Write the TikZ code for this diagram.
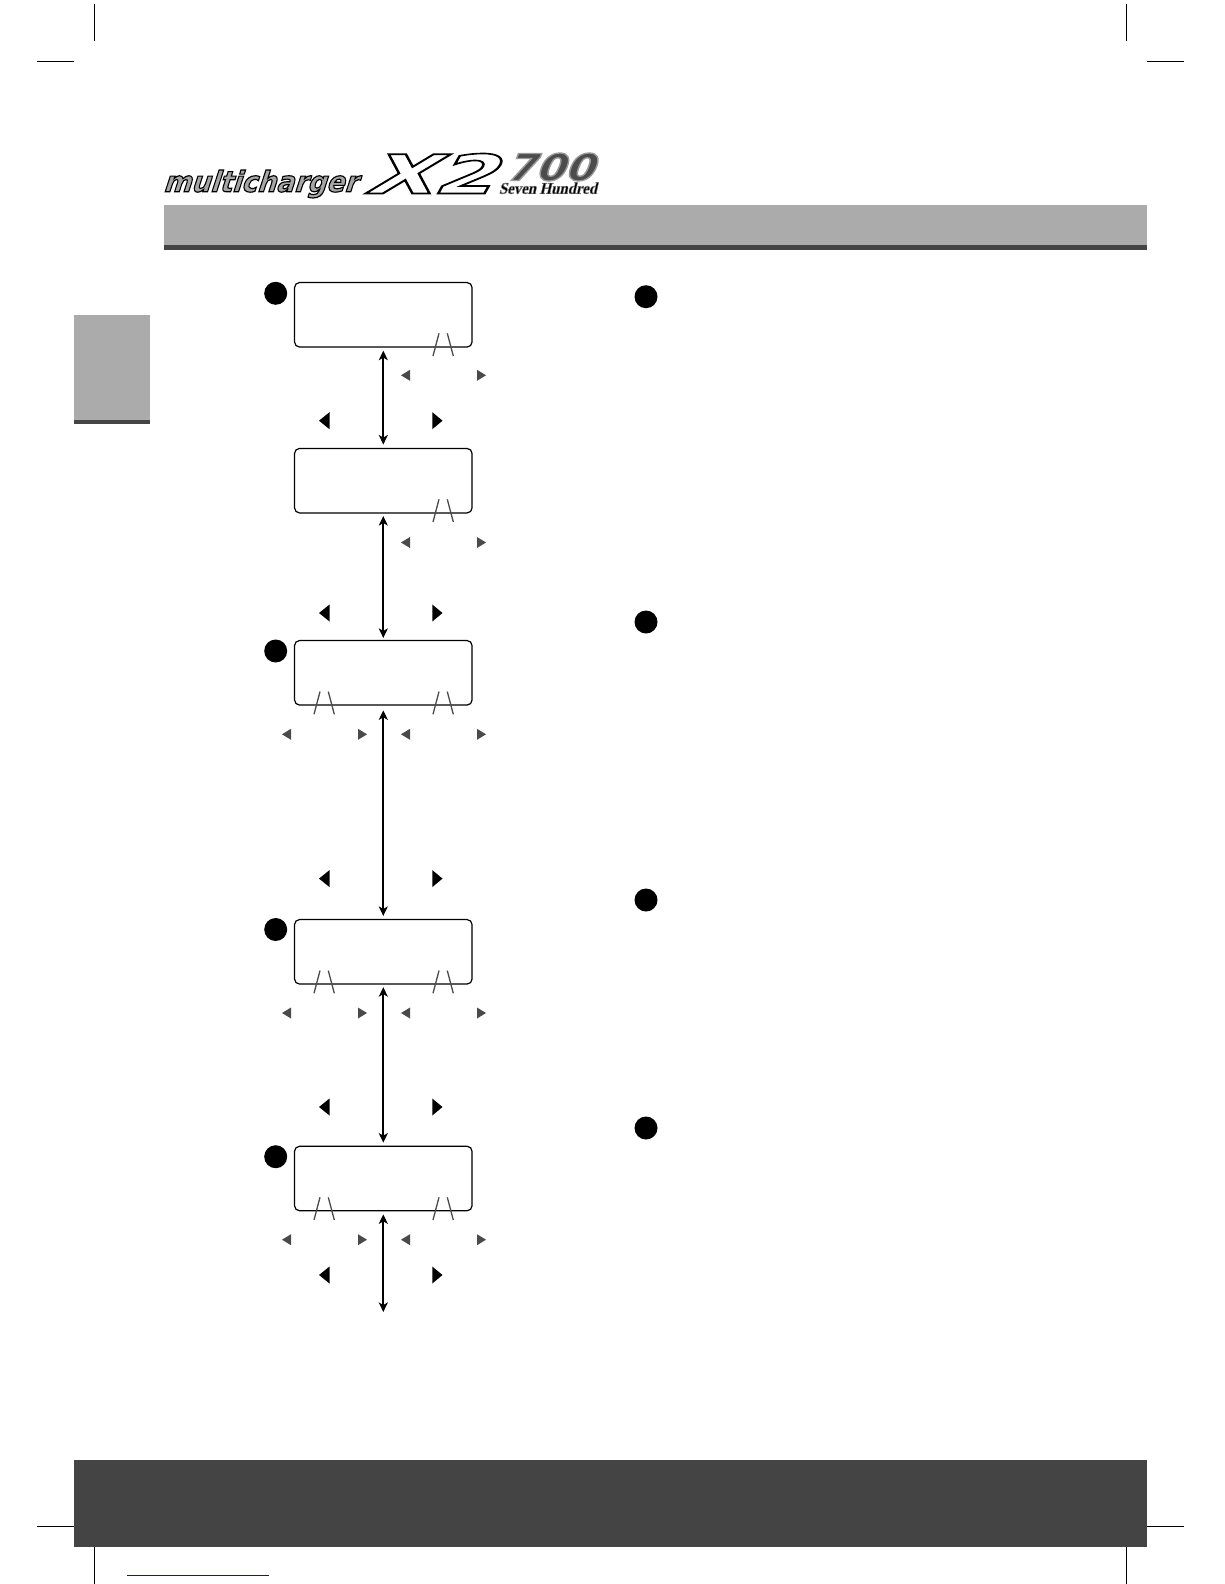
\documentclass[tikz,border=0pt]{standalone}
\usepackage{fontspec}
\usepackage{graphicx}
\usetikzlibrary{arrows.meta,fadings}
\newfontfamily\logosans[FakeSlant=0.35]{DejaVu Sans}
\newfontfamily\logoserif[FakeSlant=0.25]{Liberation Serif}
\definecolor{bandgray}{HTML}{ABABAB}
\definecolor{bandDark}{HTML}{444444}
\definecolor{markGray}{HTML}{4A4A4A}
\definecolor{linkBlue}{HTML}{14148C}
% text sizes
\newcommand{\mctext}{\resizebox*{194bp}{28bp}{\logosans\bfseries multicharger}}
\newcommand{\xtwotext}{\resizebox*{128bp}{40bp}{\logosans\bfseries X2}}
\newcommand{\sevtext}{\resizebox*{88bp}{28bp}{\logosans\bfseries 700}}
\newcommand{\shtext}{\resizebox*{98bp}{11.5bp}{\logoserif\bfseries Seven Hundred}}
\newcommand{\strokeon}[2]{\special{pdf:code 2 Tr #1 w #2 G}}
\newcommand{\strokeoff}{\special{pdf:code 0 Tr}}
\begin{tikzfadingfrompicture}[name=fademc]
\node[inner sep=0pt,text=transparent!0] {\mctext};
\end{tikzfadingfrompicture}
\begin{tikzfadingfrompicture}[name=fadextwo]
\node[inner sep=0pt,text=transparent!0] {\xtwotext};
\end{tikzfadingfrompicture}
\begin{tikzfadingfrompicture}[name=fadesev]
\node[inner sep=0pt,text=transparent!0] {\sevtext};
\end{tikzfadingfrompicture}
\tikzset{
  lcdbox/.style={draw=black,line width=1.2bp,rounded corners=5bp,fill=white,minimum width=177.5bp,minimum height=64.5bp,inner sep=0pt},
  bullet/.style={circle,fill=black,minimum size=23bp,inner sep=0pt},
  crop/.style={line width=1bp,black},
  arr/.style={line width=1.7bp,black,{Stealth[length=9.5bp,width=9bp,inset=2.5bp]}-{Stealth[length=9.5bp,width=9bp,inset=2.5bp]}},
  softkey/.style={line width=1.3bp,markGray},
  smalltri/.style={fill=markGray},
  bigtri/.style={fill=black},
  logotext/.style={inner sep=0pt,anchor=center}
}
\newcommand{\slashes}[2]{%
  \draw[softkey] (#1-19,#2+9) -- (#1-13,#2-13.7);
  \draw[softkey] (#1-4.7,#2-13.7) -- (#1+1.3,#2+9);}
\newcommand{\smalltris}[2]{%
  \fill[smalltri] (#1,#2) -- (#1+9,#2-5.5) -- (#1+9,#2+5.5) -- cycle;
  \fill[smalltri] (#1+85,#2) -- (#1+76,#2-5.5) -- (#1+76,#2+5.5) -- cycle;}
\newcommand{\bigtris}[1]{%
  \fill[bigtri] (319,#1) -- (329.5,#1-8.5) -- (329.5,#1+8.5) -- cycle;
  \fill[bigtri] (442.5,#1) -- (432.3,#1-8.5) -- (432.3,#1+8.5) -- cycle;}
\begin{document}
\begin{tikzpicture}[x=1bp,y=-1bp]
\useasboundingbox (0,0) rectangle (1224,1584);
\fill[white] (0,0) rectangle (1224,1584);
% crop marks
\draw[crop] (94.4,4) -- (94.4,41);
\draw[crop] (37,61.3) -- (74,61.3);
\draw[crop] (1126.3,4) -- (1126.3,41);
\draw[crop] (1147,61.3) -- (1184,61.3);
\draw[crop] (37,1526.3) -- (74,1526.3);
\draw[crop] (94.4,1547) -- (94.4,1584);
\draw[crop] (1147,1526.3) -- (1184,1526.3);
\draw[crop] (1126.3,1547) -- (1126.3,1584);
% bands
\fill[bandgray] (164,205) rectangle (1147,245);
\fill[bandDark] (164,245) rectangle (1147,250);
\fill[bandgray] (74,315) rectangle (150,420);
\fill[bandDark] (74,420) rectangle (150,424);
\fill[bandDark] (74,1460) rectangle (1147,1546.7);
\draw[linkBlue,line width=1.1bp] (127,1575.3) -- (269,1575.3);
% logo
\node[logotext,text=black!35] (logomc) at (260,184) {\strokeon{0.4}{0}\mctext\strokeoff};
\node[logotext,text=white] (logox) at (428,173.5) {\strokeon{0.3}{0}\xtwotext\strokeoff};
\shade[path fading=fadextwo,fit fading=false,top color=white,bottom color=black!30,draw=none] (364,153.5) rectangle (492,193.5);
\node[logotext,text=black!70] (logosev) at (549,167) {\strokeon{0.35}{0.6}\sevtext\strokeoff};
\node[logotext,text=black] (logosh) at (548,188.2) {\strokeon{0.3}{0.45}\shtext\strokeoff};
\shade[path fading=fademc,fit fading=false,top color=white,bottom color=black!60,draw=none] (163,170) rectangle (357,198);
\shade[path fading=fadesev,fit fading=false,left color=black!90,right color=black!45,draw=none] (505,153) rectangle (593,181);
% boxes
\node[lcdbox] (b1) at (383.3,314.8) {};
\node[lcdbox] (b2) at (383.3,480.7) {};
\node[lcdbox] (b3) at (383.3,672.8) {};
\node[lcdbox] (b4) at (383.3,951.8) {};
\node[lcdbox] (b5) at (383.3,1178.5) {};
\coordinate (e5) at (383.3,1312);
% connectors
\draw[arr,shorten <=3bp,shorten >=3.3bp] (b1.south) -- (b2.north);
\draw[arr,shorten <=2.5bp,shorten >=2bp] (b2.south) -- (b3.north);
\draw[arr,shorten <=4.7bp,shorten >=3bp] (b3.south) -- (b4.north);
\draw[arr,shorten <=2.5bp,shorten >=3bp] (b4.south) -- (b5.north);
\draw[arr,shorten <=3bp] (b5.south) -- (e5);
% bullets
\node[bullet] (l1) at (275.7,293.3) {};
\node[bullet] (l3) at (275.7,651) {};
\node[bullet] (l4) at (275.7,929.5) {};
\node[bullet] (l5) at (275.7,1156.7) {};
\node[bullet] (r1) at (646,296.7) {};
\node[bullet] (r2) at (646,622) {};
\node[bullet] (r3) at (646,900) {};
\node[bullet] (r4) at (646,1128) {};
% soft-key marks
\slashes{452}{347}
\slashes{452}{513}
\slashes{452}{705.3}
\slashes{333}{705.3}
\slashes{452}{984.3}
\slashes{333}{984.3}
\slashes{452}{1211}
\slashes{333}{1211}
% small triangles
\smalltris{401}{375.3}
\smalltris{401}{542.5}
\smalltris{401}{734.3}
\smalltris{282}{734.3}
\smalltris{401}{1013}
\smalltris{282}{1013}
\smalltris{401}{1239.7}
\smalltris{282}{1239.7}
% large triangles
\bigtris{420.7}
\bigtris{613}
\bigtris{878.6}
\bigtris{1107}
\bigtris{1275}
\end{tikzpicture}
\end{document}
